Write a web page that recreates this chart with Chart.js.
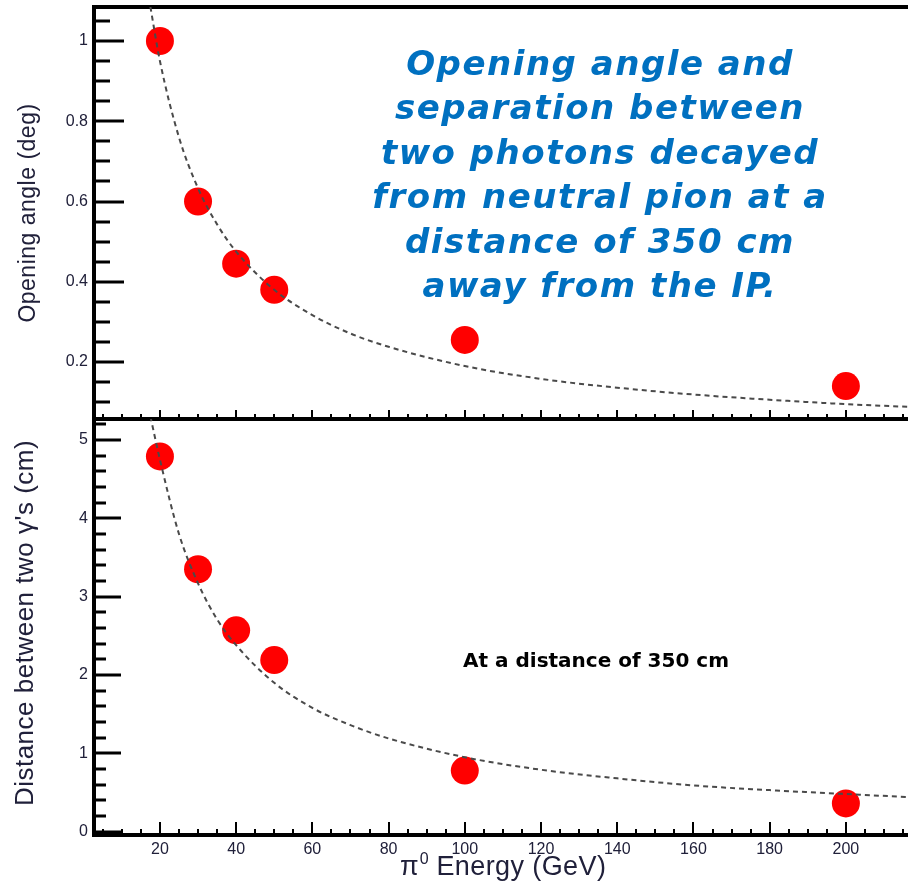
<!DOCTYPE html>
<html lang="en">
<head>
<meta charset="UTF-8">
<title>Opening angle and separation</title>
<script src="https://cdn.jsdelivr.net/npm/chart.js"></script>
<style>
  html, body { margin: 0; padding: 0; background: #fff; }
  #wrap { position: relative; width: 908px; height: 883px; overflow: hidden; }
  #topChart { position: absolute; left: 0; top: 0; }
  #bottomChart { position: absolute; left: 0; top: 419px; }
</style>
</head>
<body>
<div id="wrap">
  <canvas id="topChart" width="908" height="419"></canvas>
  <canvas id="bottomChart" width="908" height="464"></canvas>
</div>
<script>
// measured points
var energies = [20, 30, 40, 50, 100, 200];
var openingAngle = [1.0, 0.60, 0.445, 0.38, 0.255, 0.14];
var separation = [4.79, 3.35, 2.57, 2.19, 0.78, 0.36];

// dashed fit curves
var fitEnergy = [17.5, 20, 25, 30, 35, 40, 50, 60, 70, 80, 100, 120, 140, 160, 180, 200, 217];
var fitAngle = [1.085, 0.95, 0.76, 0.633, 0.543, 0.475, 0.38, 0.317, 0.271, 0.238, 0.19, 0.158, 0.136, 0.119, 0.106, 0.095, 0.088];
var fitSep = [5.3, 4.75, 3.8, 3.17, 2.71, 2.38, 1.9, 1.58, 1.36, 1.19, 0.95, 0.79, 0.68, 0.59, 0.53, 0.48, 0.44];

// tick labels
var xTicks = [20, 40, 60, 80, 100, 120, 140, 160, 180, 200];
var yTopTicks = [0.2, 0.4, 0.6, 0.8, 1];
var yBottomTicks = [0, 1, 2, 3, 4, 5];

var titleLines = [
  'Opening angle and',
  'separation between',
  'two photons decayed',
  'from neutral pion at a',
  'distance of 350 cm',
  'away from the IP.'
];

var tickFont = { family: 'Liberation Sans', size: 16 };
var textColor = '#20203a';

function pairs(xs, ys) {
  return xs.map(function (x, i) { return { x: x, y: ys[i] }; });
}

// frame + inward ticks, like the ROOT style axes
function frameTicks(opt) {
  return {
    id: 'frameTicks',
    beforeDatasetsDraw: function (chart) {
      var ctx = chart.ctx, a = chart.chartArea, x = chart.scales.x, y = chart.scales.y;
      ctx.save();
      ctx.strokeStyle = '#000';
      ctx.lineWidth = 2;
      for (var k = 1; k <= 43; k++) {
        var v = k * 5;
        var px = Math.round(x.getPixelForValue(v));
        if (px < a.left || px > a.right) continue;
        var len = v % 20 === 0 ? opt.xMajor : opt.xMinor;
        ctx.beginPath(); ctx.moveTo(px, a.bottom); ctx.lineTo(px, a.bottom - len); ctx.stroke();
      }
      ctx.lineWidth = 3;
      for (var j = opt.yFrom; j <= opt.yTo; j++) {
        var yv = j * opt.yStep;
        var py = Math.round(y.getPixelForValue(yv));
        if (py < a.top || py > a.bottom) continue;
        var l = j % opt.yEvery === 0 ? opt.yMajor : opt.yMinor;
        ctx.beginPath(); ctx.moveTo(a.left, py); ctx.lineTo(a.left + l, py); ctx.stroke();
      }
      ctx.lineWidth = 4;
      ctx.beginPath();
      ctx.moveTo(a.left, a.top - 2); ctx.lineTo(a.left, a.bottom + 2);
      ctx.moveTo(a.left - 2, a.bottom); ctx.lineTo(a.right, a.bottom);
      ctx.moveTo(a.left - 2, a.top); ctx.lineTo(a.right, a.top);
      ctx.stroke();
      ctx.restore();
    }
  };
}

var topText = {
  id: 'topText',
  afterDraw: function (chart) {
    var ctx = chart.ctx;
    ctx.save();
    ctx.fillStyle = '#0070c0';
    ctx.font = 'italic bold 34px "DejaVu Sans"';
    ctx.letterSpacing = '1.5px';
    ctx.textAlign = 'center';
    ctx.textBaseline = 'alphabetic';
    titleLines.forEach(function (s, i) { ctx.fillText(s, 600, 75 + i * 44.4); });
    ctx.letterSpacing = '0.5px';
    ctx.fillStyle = textColor;
    ctx.font = '23px "Liberation Sans"';
    ctx.translate(29, 213);
    ctx.rotate(-Math.PI / 2);
    ctx.textBaseline = 'middle';
    ctx.fillText('Opening angle (deg)', 0, 0);
    ctx.restore();
  }
};

var bottomText = {
  id: 'bottomText',
  afterDraw: function (chart) {
    var ctx = chart.ctx;
    ctx.save();
    ctx.fillStyle = '#000';
    ctx.font = 'bold 20px "DejaVu Sans"';
    ctx.textAlign = 'left';
    ctx.textBaseline = 'middle';
    ctx.fillText('At a distance of 350 cm', 463, 243);

    ctx.fillStyle = textColor;
    ctx.textBaseline = 'alphabetic';
    var bx = 400, by = 456;
    ctx.font = '27px "Liberation Sans"';
    ctx.fillText('\u03c0', bx, by);
    bx += ctx.measureText('\u03c0').width + 1;
    ctx.font = '16px "Liberation Sans"';
    ctx.fillText('0', bx, by - 11);
    bx += ctx.measureText('0').width;
    ctx.font = '27px "Liberation Sans"';
    ctx.letterSpacing = '0.4px';
    ctx.fillText(' Energy (GeV)', bx, by);

    ctx.font = '26px "Liberation Sans"';
    ctx.letterSpacing = '0.5px';
    ctx.textAlign = 'center';
    ctx.textBaseline = 'middle';
    ctx.translate(26, 204);
    ctx.rotate(-Math.PI / 2);
    ctx.fillText('Distance between two \u03b3\'s (cm)', 0, 0);
    ctx.restore();
  }
};

function noPad(s) {
  s.paddingTop = 0; s.paddingBottom = 0; s.paddingLeft = 0; s.paddingRight = 0;
}

function makeChart(id, pts, fit, yMin, yMax, yTicks, padTop, xHeight, showX, extra) {
  return new Chart(document.getElementById(id), {
    type: 'scatter',
    data: {
      datasets: [
        {
          data: pairs(fitEnergy, fit),
          showLine: true,
          borderColor: '#4a4a4a',
          borderWidth: 2,
          borderDash: [5, 4],
          pointRadius: 0,
          cubicInterpolationMode: 'monotone',
          order: 0
        },
        {
          data: pairs(energies, pts),
          backgroundColor: '#ff0000',
          borderWidth: 0,
          pointRadius: 14,
          order: 1
        }
      ]
    },
    options: {
      responsive: false,
      devicePixelRatio: 1,
      animation: false,
      layout: { autoPadding: false, padding: { left: 0, right: 0, top: padTop, bottom: 0 } },
      plugins: { legend: { display: false }, tooltip: { enabled: false } },
      scales: {
        x: {
          type: 'linear',
          min: 2.7,
          max: 216.3,
          grid: { display: false, drawTicks: false },
          border: { display: false },
          afterBuildTicks: function (s) { s.ticks = xTicks.map(function (v) { return { value: v }; }); },
          afterFit: function (s) { s.height = xHeight; noPad(s); },
          ticks: { display: showX, padding: 5, font: tickFont, color: textColor, maxRotation: 0, autoSkip: false }
        },
        y: {
          type: 'linear',
          min: yMin,
          max: yMax,
          grid: { display: false, drawTicks: false },
          border: { display: false },
          afterBuildTicks: function (s) { s.ticks = yTicks.map(function (v) { return { value: v }; }); },
          afterFit: function (s) { s.width = 94; noPad(s); },
          ticks: { padding: 6, font: tickFont, color: textColor, callback: function (v) { return String(v); } }
        }
      }
    },
    plugins: [frameTicks(extra), extra.text]
  });
}

makeChart('topChart', openingAngle, fitAngle, 0.058, 1.0847, yTopTicks, 7, 0, false,
  { xMajor: 9, xMinor: 5, yFrom: 2, yTo: 21, yStep: 0.05, yEvery: 4, yMajor: 30, yMinor: 16, text: topText });
makeChart('bottomChart', separation, fitSep, -0.043, 5.268, yBottomTicks, 0, 48, true,
  { xMajor: 13, xMinor: 6, yFrom: 0, yTo: 26, yStep: 0.2, yEvery: 5, yMajor: 27, yMinor: 12, text: bottomText });
</script>
</body>
</html>
